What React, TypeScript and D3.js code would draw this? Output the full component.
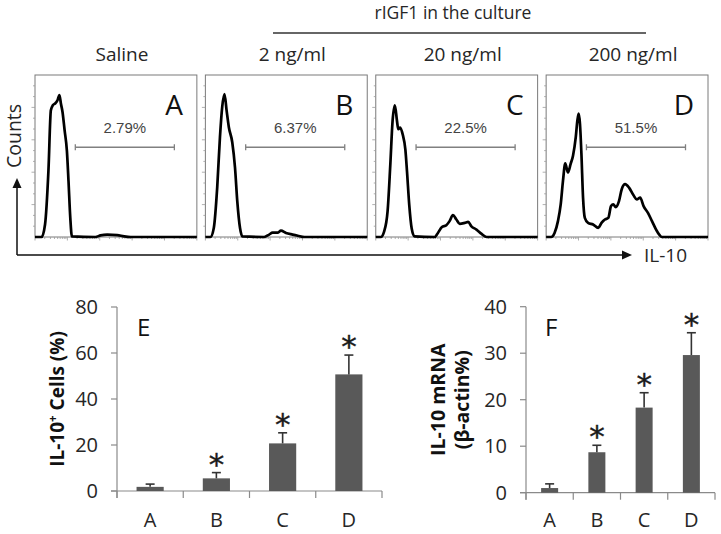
import React from 'react';
import * as d3 from 'd3';

// ---------- data ----------
const panelTitles = ['Saline', '2 ng/ml', '20 ng/ml', '200 ng/ml'];
const panelLetters = ['A', 'B', 'C', 'D'];
const gatePercents = ['2.79%', '6.37%', '22.5%', '51.5%'];
const gateRange = [24.9, 86.1];
const gateLevel = 55.4;

const histA: [number, number][] = [
  [0, 0], [4.1, 0], [6.2, 7.7], [8.3, 40.9], [9.8, 78.2], [11.0, 81.3], [12.4, 82.4], [13.9, 84.4],
  [15.1, 87.6], [16.0, 82.4], [17.0, 77.2], [18.3, 65.8], [19.7, 53.3], [20.7, 34.6], [21.8, 11.8],
  [22.8, 0.4], [37.3, 0], [40.5, 1.0], [44.6, 1.5], [50.8, 1.2], [55.0, 0.4], [59.1, 0], [100, 0],
];
const histB: [number, number][] = [
  [0, 0], [3.1, 0], [5.2, 5.6], [7.3, 30.5], [9.0, 61.6], [10.4, 80.3], [11.8, 88.2], [13.1, 78.2],
  [14.5, 67.8], [16.6, 58.5], [18.3, 42.9], [19.7, 22.2], [21.4, 5.6], [22.8, 0.4], [36.3, 0],
  [39.4, 1.5], [41.5, 2.7], [44.6, 2.7], [46.7, 3.9], [49.8, 2.5], [53.9, 1.5], [57.1, 0.8], [61.2, 0], [100, 0],
];
const histC: [number, number][] = [
  [0, 0], [3.1, 0], [5.2, 3.5], [7.3, 15.8], [9.0, 44.8], [10.4, 71.8], [11.8, 81.3], [13.1, 71.8],
  [13.9, 66.6], [15.1, 67.6], [16.6, 63.5], [18.3, 53.9], [19.3, 40.5], [20.7, 19.7], [22.2, 5.2],
  [23.9, 0.4], [36.3, 0], [38.4, 2.5], [40.9, 6.2], [43.6, 7.3], [45.6, 9.8], [47.7, 13.5], [49.8, 10.8],
  [51.9, 8.1], [55.0, 8.7], [57.1, 9.3], [59.1, 6.6], [62.2, 4.6], [65.4, 1.9], [68.5, 0], [100, 0],
];
const histD: [number, number][] = [
  [0, 0], [3.1, 0], [5.2, 2.5], [7.3, 9.8], [9.0, 20.1], [10.4, 34.6], [11.8, 45.4], [13.5, 39.8],
  [15.1, 45.0], [16.6, 50.2], [18.3, 61.6], [19.3, 72.0], [20.1, 76.1], [20.9, 69.9], [21.8, 51.2],
  [22.8, 24.3], [23.9, 11.8], [25.9, 8.7], [29.0, 7.7], [32.2, 5.6], [34.2, 8.7], [36.3, 10.8],
  [38.4, 11.8], [40.1, 19.1], [41.5, 20.1], [43.0, 18.5], [45.0, 22.2], [46.7, 29.5], [48.8, 32.6],
  [51.2, 30.5], [53.9, 25.9], [56.0, 23.2], [58.1, 24.3], [60.2, 19.1], [62.9, 14.9], [65.4, 9.8],
  [68.5, 3.5], [71.6, 0], [100, 0],
];
const histograms = [histA, histB, histC, histD];

const categories = ['A', 'B', 'C', 'D'];
const il10CellsMean = [1.8, 5.5, 20.7, 50.7];
const il10CellsErr = [1.2, 2.5, 4.6, 8.4];
const il10MrnaMean = [1.0, 8.7, 18.3, 29.6];
const il10MrnaErr = [0.9, 1.5, 3.2, 4.8];
const significant = [false, true, true, true];
const eTicks = [0, 20, 40, 60, 80];
const fTicks = [0, 10, 20, 30, 40];

// ---------- styles ----------
const FONT = "'Open Sans', 'DejaVu Sans', sans-serif";
const AXIS = '#8a8a8a';
const BAR = '#595959';
const TEXT = '#262626';

const W = 721;
const H = 534;

function HistPanel({ x0, width, data, title, letter, pct }: any) {
  const top = 75;
  const bottom = 237;
  const x = d3.scaleLinear().domain([0, 100]).range([x0, x0 + width]);
  const y = d3.scaleLinear().domain([0, 100]).range([bottom, top]);
  const line = d3.line<[number, number]>().x(d => x(d[0])).y(d => y(d[1])).curve(d3.curveMonotoneX);
  const leftTicks = d3.range(1, 15).map(k => (k * 100) / 15);
  const bottomTicks: { v: number; major: boolean }[] = [];
  for (let dec = 0; dec < 5; dec++) {
    bottomTicks.push({ v: dec * 20, major: true });
    for (let k = 2; k <= 9; k++) bottomTicks.push({ v: dec * 20 + 20 * Math.log10(k), major: false });
  }
  bottomTicks.push({ v: 100, major: true });
  return (
    <g>
      <text x={x(50) + 6} y={61} textAnchor="middle" fontFamily={FONT} fontSize={19} fill={TEXT}>{title}</text>
      <rect x={x0} y={top} width={width} height={bottom - top} fill="white" stroke="#7a7a7a" strokeWidth={1} />
      {leftTicks.map((t, i) => (
        <line key={'l' + i} x1={x0} x2={x0 - ((i + 1) % 3 === 0 ? 3.5 : 2)} y1={y(t)} y2={y(t)} stroke="#9a9a9a" strokeWidth={0.8} />
      ))}
      {bottomTicks.map((t, i) => (
        <line key={'b' + i} x1={x(t.v)} x2={x(t.v)} y1={bottom} y2={bottom + (t.major ? 3.5 : 2)} stroke="#9a9a9a" strokeWidth={0.8} />
      ))}
      <path d={line(data) || ''} fill="none" stroke="#000" strokeWidth={2.7} strokeLinejoin="round" />
      <text x={x0 + width - 14} y={115} textAnchor="end" fontFamily={FONT} fontSize={28} fill="#111">{letter}</text>
      <text x={x((gateRange[0] + gateRange[1]) / 2)} y={133} textAnchor="middle" fontFamily="'Liberation Sans', Arial, sans-serif" fontSize={15} fill="#444">{pct}</text>
      <line x1={x(gateRange[0])} x2={x(gateRange[1])} y1={y(gateLevel)} y2={y(gateLevel)} stroke="#808080" strokeWidth={1.6} />
      <line x1={x(gateRange[0])} x2={x(gateRange[0])} y1={y(gateLevel) - 3} y2={y(gateLevel) + 3} stroke="#808080" strokeWidth={1.3} />
      <line x1={x(gateRange[1])} x2={x(gateRange[1])} y1={y(gateLevel) - 3} y2={y(gateLevel) + 3} stroke="#808080" strokeWidth={1.3} />
    </g>
  );
}

function BarPanel({ xr, yr, means, errs, ticks, letter, letterX, titleLines, titleX, barPad, titleSize }: any) {
  const x = d3.scaleBand().domain(categories).range(xr).paddingInner(barPad).paddingOuter(barPad / 2);
  const y = d3.scaleLinear().domain([ticks[0], ticks[ticks.length - 1]]).range(yr);
  const step = x.step();
  const bounds = d3.range(0, categories.length + 1).map(i => xr[0] + i * step);
  const cap = 9;
  const midY = (yr[0] + yr[1]) / 2;
  return (
    <g>
      <line x1={xr[0]} x2={xr[0]} y1={y(ticks[ticks.length - 1])} y2={y(0) + 7} stroke={AXIS} strokeWidth={1.2} />
      {ticks.map((t: number) => (
        <g key={t}>
          <line x1={xr[0] - 6} x2={xr[0]} y1={y(t)} y2={y(t)} stroke={AXIS} strokeWidth={1.2} />
          <text x={xr[0] - 19} y={y(t)} dy="0.36em" textAnchor="end" fontFamily={FONT} fontSize={20} fill={TEXT}>{t}</text>
        </g>
      ))}
      <line x1={xr[0] - 6} x2={xr[1]} y1={y(0)} y2={y(0)} stroke={AXIS} strokeWidth={1.2} />
      {bounds.map((b: number, i: number) => (
        <line key={'xb' + i} x1={b} x2={b} y1={y(0)} y2={y(0) + 7} stroke={AXIS} strokeWidth={1.2} />
      ))}
      {categories.map((c, i) => {
        const bx = x(c) as number;
        const bw = x.bandwidth();
        const cx = bx + bw / 2;
        const errTop = y(means[i] + errs[i]);
        return (
          <g key={c}>
            <rect x={bx} y={y(means[i])} width={bw} height={y(0) - y(means[i])} fill={BAR} />
            <line x1={cx} x2={cx} y1={y(means[i])} y2={errTop} stroke="#333" strokeWidth={1.6} />
            <line x1={cx - cap / 2} x2={cx + cap / 2} y1={errTop} y2={errTop} stroke="#333" strokeWidth={1.6} />
            {significant[i] && (
              <text x={cx} y={errTop + 2} textAnchor="middle" fontFamily="'DejaVu Sans', sans-serif" fontSize={31} fill="#1a1a1a" stroke="#1a1a1a" strokeWidth={0.4}>*</text>
            )}
            <text x={cx} y={527} textAnchor="middle" fontFamily={FONT} fontSize={20} fill={TEXT}>{c}</text>
          </g>
        );
      })}
      <text x={letterX} y={336} fontFamily={FONT} fontSize={24} fill="#111">{letter}</text>
      {titleLines.map((tl: any, i: number) => (
        <text key={i} transform={`translate(${titleX[i]},${midY}) rotate(-90)`} textAnchor="middle" fontFamily={FONT} fontWeight="bold" fontSize={titleSize} fill="#111">
          {tl}
        </text>
      ))}
    </g>
  );
}

export default function App() {
  const panels = d3.scaleBand().domain(panelLetters).range([35, 708]).paddingInner(0.05).paddingOuter(0);
  return (
    <svg width={W} height={H} viewBox={`0 0 ${W} ${H}`} style={{ position: 'absolute', left: 0, top: 0, background: '#fff' }}>
      <rect x={0} y={0} width={W} height={H} fill="#fff" />
      <text x={453} y={19} textAnchor="middle" fontFamily={FONT} fontSize={17.5} fill={TEXT}>rIGF1 in the culture</text>
      <line x1={273} x2={646} y1={33} y2={33} stroke="#333" strokeWidth={1.6} />

      {panelLetters.map((l, i) => (
        <HistPanel key={l} x0={panels(l)} width={panels.bandwidth()} data={histograms[i]} title={panelTitles[i]} letter={l} pct={gatePercents[i]} />
      ))}

      <path d="M17,255 L17,186 M17,255 L624,255" fill="none" stroke="#111" strokeWidth={1.5} />
      <path d="M17,178 L12.5,188 L21.5,188 Z" fill="#111" />
      <path d="M632,255 L622,250.5 L622,259.5 Z" fill="#111" />
      <text transform="translate(21,136) rotate(-90)" textAnchor="middle" fontFamily={FONT} fontSize={19.5} fill={TEXT}>Counts</text>
      <text x={644} y={262} fontFamily={FONT} fontSize={19} fill={TEXT}>IL-10</text>

      <BarPanel
        xr={[117, 382]}
        yr={[491, 307]}
        means={il10CellsMean}
        errs={il10CellsErr}
        ticks={eTicks}
        letter="E"
        letterX={137}
        barPad={0.59}
        titleX={[64]}
        titleSize={19}
        titleLines={[
          <>IL-10<tspan fontSize={11.5} dy={-7.5}>+</tspan><tspan dy={7.5}> Cells (%)</tspan></>,
        ]}
      />
      <BarPanel
        xr={[526, 715]}
        yr={[492.7, 306.7]}
        means={il10MrnaMean}
        errs={il10MrnaErr}
        ticks={fTicks}
        letter="F"
        letterX={545}
        barPad={0.64}
        titleX={[445, 469]}
        titleSize={19.5}
        titleLines={['IL-10 mRNA', '(β-actin%)']}
      />
    </svg>
  );
}
